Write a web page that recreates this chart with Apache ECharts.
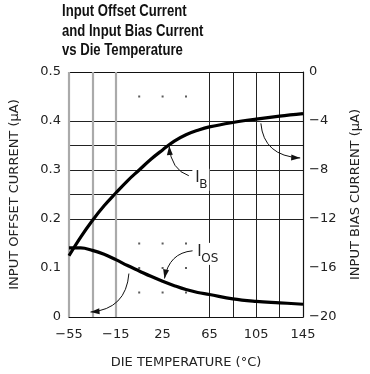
<!DOCTYPE html>
<html><head><meta charset="utf-8">
<script src="https://cdn.jsdelivr.net/npm/echarts@6/dist/echarts.min.js"></script>
<style>html,body{margin:0;padding:0;background:#fff}#c{width:370px;height:374px}</style>
</head><body><div id="c"></div>
<script>
// ---- data ----
const temps = [-55,-45,-35,-25,-15,-5,5,15,25,35,45,55,65,85,105,125,145];
const iosValues = [0.141,0.141,0.136,0.128,0.117,0.105,0.094,0.083,0.073,0.064,0.056,0.050,0.046,0.037,0.032,0.029,0.026];
const ibValues = [-15.0,-13.48,-12.12,-10.92,-9.88,-8.88,-8.0,-7.12,-6.36,-5.64,-5.12,-4.76,-4.48,-4.12,-3.84,-3.6,-3.4];
// ---- ticks / grid ----
const xLabelValues = [-55,-15,25,65,105,145];
const solidRows = [0.2,0.25,0.3,0.35,0.4];
const dottedRows = [0.05,0.1,0.15,0.45];
const grayCols = [-55,-35,-15];
const blackCols = [65,85,105,125];
const dottedCols = [5,25,45];
const titleLines = ['Input Offset Current','and Input Bias Current','vs Die Temperature'];
// ---- annotations (data coords on left axis): start, control, tip ----
const ibLeader = [[47.4,0.2883],[32.2,0.3004],[30.6,0.3488]];
const ibArrow = [[109,0.3952],[111.4,0.3286],[142.6,0.3246]];
const iosLeader = [[50.6,0.1351],[30.6,0.1310],[26.6,0.0786]];
const iosArrow = [[-3.8,0.0887],[-6.2,0.0161],[-36.6,0.0101]];
const ibLabelAt = [53,0.2984];
const iosLabelAt = [54.6,0.1472];

const font = 'DejaVu Sans';
const chart = echarts.init(document.getElementById('c'));

const markData = [];
solidRows.forEach(v => markData.push({yAxis: v, lineStyle: {color: '#222', width: 1, type: 'solid'}}));
markData.push({yAxis: 0.5, lineStyle: {color: '#111', width: 1.2, type: 'solid'}});
grayCols.forEach(t => markData.push({xAxis: t, lineStyle: {color: '#aaa', width: 2.2, type: 'solid'}}));
blackCols.forEach(t => markData.push({xAxis: t, lineStyle: {color: '#222', width: 1, type: 'solid'}}));

const dots = [];
dottedRows.forEach(v => dottedCols.forEach(t => dots.push([t, v])));

chart.setOption({
  animation: false,
  grid: {left: 65, right: 56, top: 72, bottom: 53},
  xAxis: {
    type: 'value', min: -55, max: 145,
    name: 'DIE TEMPERATURE (°C)', nameLocation: 'middle', nameGap: 39,
    nameTextStyle: {fontFamily: font, fontSize: 13, color: '#222'},
    axisLine: {show: true, lineStyle: {color: '#111', width: 1.2}},
    axisTick: {show: false},
    splitLine: {show: false},
    axisLabel: {customValues: xLabelValues, fontFamily: font, fontSize: 13, color: '#222', margin: 11,
      formatter: v => (v < 0 ? '\u2212' + Math.abs(v) : String(v))}
  },
  yAxis: [{
    type: 'value', min: 0, max: 0.5, interval: 0.1,
    name: 'INPUT OFFSET CURRENT (\u03bcA)', nameLocation: 'middle', nameGap: 48, nameRotate: 90,
    nameTextStyle: {fontFamily: font, fontSize: 13, color: '#222'},
    axisLine: {show: false}, axisTick: {show: false}, splitLine: {show: false},
    axisLabel: {fontFamily: font, fontSize: 13, color: '#222', margin: 8,
      formatter: v => (v === 0 ? '0' : v.toFixed(1))}
  }, {
    type: 'value', min: -20, max: 0, interval: 4, position: 'right',
    name: 'INPUT BIAS CURRENT (\u03bcA)', nameLocation: 'middle', nameGap: 46, nameRotate: 90,
    nameTextStyle: {fontFamily: font, fontSize: 13, color: '#222'},
    axisLine: {show: true, lineStyle: {color: '#111', width: 1.2}},
    axisTick: {show: false}, splitLine: {show: false},
    axisLabel: {fontFamily: font, fontSize: 13, color: '#222', margin: 6,
      formatter: v => (v < 0 ? '\u2212' + Math.abs(v) : String(v))}
  }],
  series: [{
    type: 'line', data: [], z: 1, silent: true,
    markLine: {silent: true, symbol: 'none', label: {show: false}, animation: false, data: markData}
  }, {
    type: 'scatter', data: dots, symbol: 'rect', symbolSize: 2, z: 1, silent: true,
    itemStyle: {color: '#333'}
  }, {
    name: 'IOS', type: 'line', yAxisIndex: 0, smooth: 0.4, showSymbol: false, z: 5,
    data: temps.map((t, i) => [t, iosValues[i]]),
    lineStyle: {color: '#000', width: 3.2}
  }, {
    name: 'IB', type: 'line', yAxisIndex: 1, smooth: 0.4, showSymbol: false, z: 5,
    data: temps.map((t, i) => [t, ibValues[i]]),
    lineStyle: {color: '#000', width: 3.2}
  }]
});

function px(p) { return chart.convertToPixel({xAxisIndex: 0, yAxisIndex: 0}, p); }
function arrow(spec, head) {
  const s = px(spec[0]), c = px(spec[1]), t = px(spec[2]);
  const els = [{type: 'bezierCurve', z: 10, silent: true,
    shape: {x1: s[0], y1: s[1], cpx1: c[0], cpy1: c[1], x2: t[0], y2: t[1]},
    style: {stroke: '#111', lineWidth: 1, fill: null}}];
  if (head) {
    const dx = t[0] - c[0], dy = t[1] - c[1], L = Math.hypot(dx, dy);
    const ux = dx / L, uy = dy / L, len = 9, w = 3;
    const bx = t[0] - ux * len, by = t[1] - uy * len;
    els.push({type: 'polygon', z: 10, silent: true,
      shape: {points: [[t[0], t[1]], [bx - uy * w, by + ux * w], [bx + uy * w, by - ux * w]]},
      style: {fill: '#111'}});
  }
  return els;
}
function sublabel(at, main, sub) {
  const p = px(at);
  return [{type: 'rect', z: 9, silent: true,
      shape: {x: p[0] - 3, y: p[1] - 2, width: 9 + sub.length * 8, height: 22},
      style: {fill: '#fff'}},
    {type: 'text', z: 11, silent: true, x: p[0], y: p[1],
      style: {text: main, font: '15px ' + font, fill: '#222'}},
    {type: 'text', z: 11, silent: true, x: p[0] + 4, y: p[1] + 8,
      style: {text: sub, font: '12px ' + font, fill: '#222'}}];
}
const titleEls = titleLines.map((s, i) => ({
  type: 'text', x: 62, y: 4 + i * 19.5, scaleX: 0.82, silent: true,
  style: {text: s, font: 'bold 16px "Liberation Sans"', fill: '#111'}
}));
chart.setOption({graphic: [].concat(
  titleEls,
  arrow(ibLeader, true), arrow(ibArrow, true), arrow(iosLeader, true), arrow(iosArrow, true),
  sublabel(ibLabelAt, 'I', 'B'), sublabel(iosLabelAt, 'I', 'OS')
)});
</script>
</body></html>
